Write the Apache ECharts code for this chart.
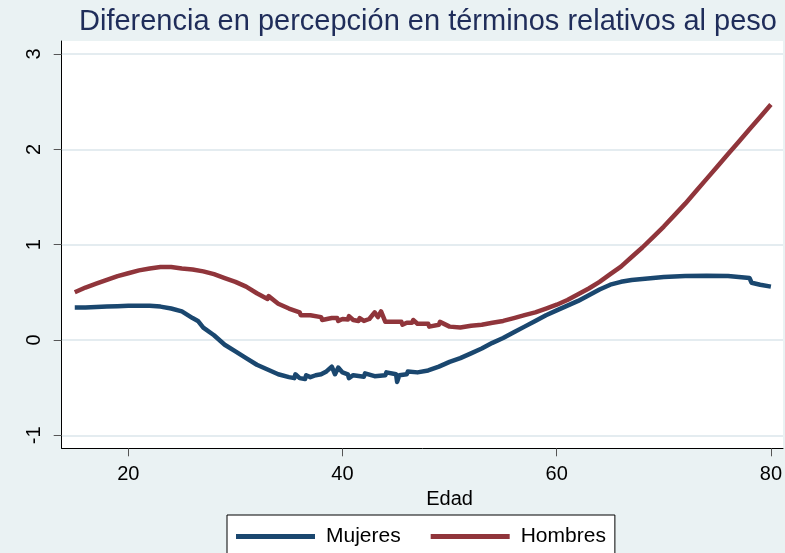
<!DOCTYPE html>
<html>
<head>
<meta charset="utf-8">
<script src="https://cdn.jsdelivr.net/npm/echarts@6/dist/echarts.min.js"></script>
<style>
  html, body { margin: 0; padding: 0; background: #EAF2F3; }
  #chart { width: 785px; height: 553px; }
</style>
</head>
<body>
<div id="chart"></div>
<script>
// Edad (años) y diferencia de percepción, mujeres
const edadMujeres = [15, 16, 17, 18, 19, 20, 21, 22, 23, 24, 25, 26, 26.5, 27, 28, 29, 30, 31, 32, 33, 34, 35, 35.5, 35.6, 36, 36.5, 36.6, 37, 37.5, 38, 38.5, 39, 39.3, 39.6, 40, 40.5, 40.6, 41, 42, 42.1, 43, 44, 44.1, 45, 45.1, 45.3, 46, 46.1, 47, 48, 49, 50, 51, 52, 53, 54, 55, 56, 57, 58, 59, 60, 61, 62, 63, 64, 65, 66, 67, 68, 69, 70, 72, 74, 76, 77, 78, 78.2, 79, 80];
const mujeres = [0.34, 0.34, 0.345, 0.35, 0.355, 0.36, 0.36, 0.36, 0.35, 0.33, 0.30, 0.23, 0.20, 0.13, 0.05, -0.05, -0.12, -0.19, -0.26, -0.31, -0.36, -0.39, -0.40, -0.36, -0.40, -0.41, -0.37, -0.39, -0.37, -0.36, -0.33, -0.28, -0.36, -0.29, -0.34, -0.36, -0.40, -0.37, -0.385, -0.35, -0.38, -0.37, -0.34, -0.36, -0.44, -0.37, -0.36, -0.33, -0.34, -0.32, -0.28, -0.23, -0.19, -0.14, -0.09, -0.03, 0.02, 0.08, 0.14, 0.20, 0.26, 0.31, 0.36, 0.41, 0.47, 0.53, 0.58, 0.61, 0.63, 0.64, 0.65, 0.66, 0.67, 0.675, 0.67, 0.66, 0.65, 0.60, 0.58, 0.56];

// Edad (años) y diferencia de percepción, hombres
const edadHombres = [15, 16, 17, 18, 19, 20, 21, 22, 23, 24, 25, 26, 27, 28, 29, 30, 31, 32, 33, 33.1, 34, 35, 36, 36.1, 37, 38, 38.1, 39, 39.5, 39.6, 40, 40.5, 40.6, 41, 41.5, 41.6, 42, 42.5, 43, 43.3, 43.6, 44, 45, 45.5, 45.6, 46, 46.5, 46.6, 47, 48, 48.1, 49, 49.1, 50, 51, 52, 53, 54, 55, 56, 57, 58, 59, 60, 61, 62, 63, 64, 65, 66, 67, 68, 69, 70, 71, 72, 73, 74, 75, 76, 77, 78, 79, 80];
const hombres = [0.50, 0.55, 0.59, 0.63, 0.67, 0.70, 0.73, 0.75, 0.765, 0.765, 0.75, 0.74, 0.72, 0.69, 0.65, 0.61, 0.56, 0.49, 0.43, 0.46, 0.38, 0.33, 0.29, 0.26, 0.26, 0.24, 0.21, 0.23, 0.23, 0.20, 0.22, 0.215, 0.25, 0.21, 0.20, 0.23, 0.20, 0.22, 0.29, 0.24, 0.30, 0.19, 0.19, 0.19, 0.16, 0.18, 0.18, 0.21, 0.17, 0.17, 0.14, 0.16, 0.19, 0.14, 0.13, 0.15, 0.16, 0.18, 0.20, 0.23, 0.26, 0.29, 0.33, 0.37, 0.42, 0.48, 0.54, 0.61, 0.69, 0.77, 0.87, 0.97, 1.08, 1.19, 1.31, 1.43, 1.56, 1.69, 1.82, 1.95, 2.08, 2.21, 2.34, 2.47];

const xTicks = [20, 40, 60, 80];
const yTicks = [-1, 0, 1, 2, 3];

const FONT = 'Liberation Sans, Arial, sans-serif';
const pairs = (xs, ys) => xs.map((x, i) => [x, ys[i]]);

const chart = echarts.init(document.getElementById('chart'), null, { renderer: 'canvas' });

chart.setOption({
  backgroundColor: '#EAF2F3',
  animation: false,
  title: {
    text: 'Diferencia en percepción en términos relativos al peso',
    left: 74,
    top: 2,
    textStyle: { fontFamily: FONT, fontSize: 29, fontWeight: 'normal', color: '#1F2D5A' }
  },
  legend: {
    data: ['Mujeres', 'Hombres'],
    left: 227,
    top: 515,
    orient: 'horizontal',
    icon: 'rect',
    itemWidth: 79,
    itemHeight: 5,
    itemGap: 30,
    padding: [11, 9, 30, 9],
    backgroundColor: '#ffffff',
    borderColor: '#000000',
    borderWidth: 1,
    borderRadius: 0,
    textStyle: { fontFamily: FONT, fontSize: 21, color: '#000000', padding: [0, 0, 0, 6] }
  },
  grid: [
    // plot frame
    { left: 61.7, right: 2, top: 41, bottom: 104.7, show: true, backgroundColor: '#ffffff', borderWidth: 0 },
    // data area
    { left: 61.7, right: 2, top: 54, bottom: 117.7 },
    // x ticks
    { left: 128.3, right: 14, top: 41, bottom: 104.7 }
  ],
  xAxis: [
    {
      gridIndex: 0, type: 'value', min: 0, max: 1,
      axisLine: { show: true, lineStyle: { color: '#000000', width: 1 } },
      axisTick: { show: false }, axisLabel: { show: false }, splitLine: { show: false }
    },
    {
      gridIndex: 1, type: 'value', min: 13.78, max: 81.13, show: false
    },
    {
      gridIndex: 2, type: 'value', min: xTicks[0], max: xTicks[xTicks.length - 1], interval: 20,
      name: 'Edad', nameLocation: 'middle', nameGap: 32,
      nameTextStyle: { fontFamily: FONT, fontSize: 20, color: '#000000' },
      axisLine: { show: false },
      axisTick: { show: true, length: 8, lineStyle: { color: '#555555', width: 1 } },
      axisLabel: { fontFamily: FONT, fontSize: 20, color: '#000000', margin: 16 },
      splitLine: { show: false }
    }
  ],
  yAxis: [
    {
      gridIndex: 0, type: 'value', min: 0, max: 1,
      axisLine: { show: true, lineStyle: { color: '#000000', width: 1 } },
      axisTick: { show: false }, axisLabel: { show: false }, splitLine: { show: false }
    },
    {
      gridIndex: 1, type: 'value', min: yTicks[0], max: yTicks[yTicks.length - 1], interval: 1,
      axisLine: { show: false },
      axisTick: { show: true, length: 8, lineStyle: { color: '#555555', width: 1 } },
      axisLabel: { fontFamily: FONT, fontSize: 20, color: '#000000', rotate: 90, margin: 17 },
      splitLine: { show: true, lineStyle: { color: '#E4ECF0', width: 2 } }
    },
    {
      gridIndex: 2, type: 'value', show: false
    }
  ],
  series: [
    {
      name: 'Mujeres', type: 'line', xAxisIndex: 1, yAxisIndex: 1,
      data: pairs(edadMujeres, mujeres),
      showSymbol: false, symbol: 'none',
      color: '#1A476F',
      lineStyle: { color: '#1A476F', width: 4.5, join: 'round' }
    },
    {
      name: 'Hombres', type: 'line', xAxisIndex: 1, yAxisIndex: 1,
      data: pairs(edadHombres, hombres),
      showSymbol: false, symbol: 'none',
      color: '#90353B',
      lineStyle: { color: '#90353B', width: 4.5, join: 'round' }
    }
  ]
});
</script>
</body>
</html>
